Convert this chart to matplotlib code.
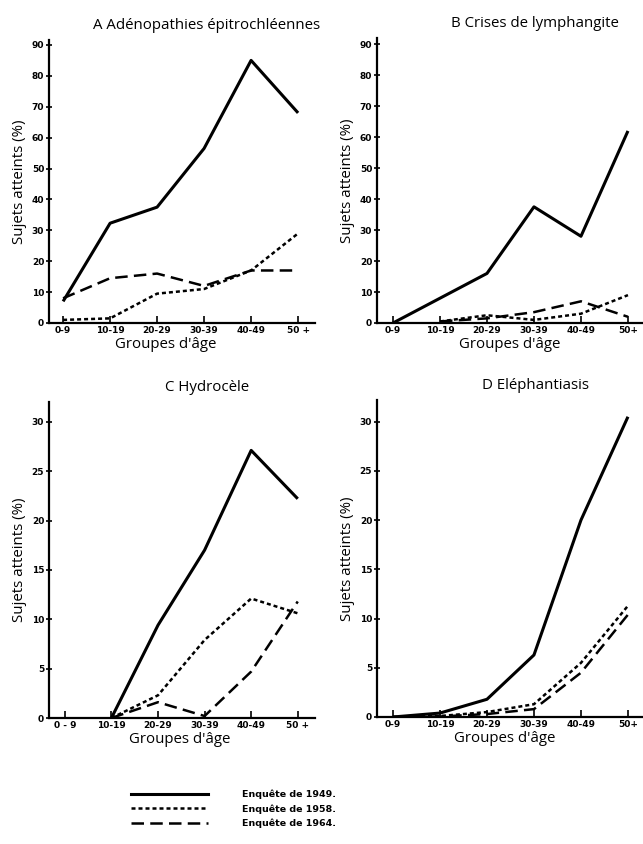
import numpy as np
import matplotlib
matplotlib.use("Agg")
import matplotlib.pyplot as plt
from matplotlib.lines import Line2D

# Données (pourcentage de sujets atteints)
groupes_a = ["0-9", "10-19", "20-29", "30-39", "40-49", "50 +"]
groupes_b = ["0-9", "10-19", "20-29", "30-39", "40-49", "50+"]
groupes_c = ["0 - 9", "10-19", "20-29", "30-39", "40-49", "50 +"]
groupes_d = ["0-9", "10-19", "20-29", "30-39", "40-49", "50+"]

a_1949 = [7, 32.3, 37.5, 56.5, 85, 68]
a_1958 = [1, 1.5, 9.5, 11, 17, 29]
a_1964 = [8, 14.5, 16, 12, 17, 17]

b_1949 = [0, 8, 16, 37.5, 28, 62]
b_1958 = [np.nan, 0.5, 2.5, 1, 3, 9]
b_1964 = [np.nan, 0.5, 1.5, 3.5, 7, 2]

c_1949 = [np.nan, 0, 9.4, 17, 27.1, 22.2]
c_1958 = [np.nan, 0, 2.3, 7.9, 12.1, 10.6]
c_1964 = [np.nan, 0, 1.6, 0.2, 4.7, 11.8]

d_1949 = [0, 0.4, 1.8, 6.3, 20, 30.5]
d_1958 = [0, 0.1, 0.5, 1.3, 5.5, 11.3]
d_1964 = [0, 0.05, 0.3, 0.8, 4.5, 10.4]

titres = ["A Adénopathies épitrochléennes", "B Crises de lymphangite",
          "C Hydrocèle", "D Eléphantiasis"]
legendes = ["Enquête de 1949.", "Enquête de 1958.", "Enquête de 1964."]

W, H = 643, 844
fig = plt.figure(figsize=(W / 100, H / 100), dpi=100)

def box(x0, x1, ybot, ytop):
    return [x0 / W, 1 - ybot / H, (x1 - x0) / W, (ybot - ytop) / H]

tickfont = dict(family=["Liberation Sans Narrow", "DejaVu Sans"], weight="bold", size=6.5)
labfont = dict(family=["Open Sans", "DejaVu Sans"], size=10.8)

styles = [dict(ls="-", lw=2.2),
          dict(ls=(0, (1.6, 1.2)), lw=1.8),
          dict(ls=(0, (5, 2.5)), lw=1.8)]

panneaux = [
    (box(49, 315, 323, 40), groupes_a, [a_1949, a_1958, a_1964], 91.6, 10, (-0.3, 5.36), 0.44),
    (box(377, 643, 323, 38), groupes_b, [b_1949, b_1958, b_1964], 92, 10, (-0.34, 5.32), 0.50),
    (box(49, 315, 718, 402), groupes_c, [c_1949, c_1958, c_1964], 32.0, 5, (-0.34, 5.37), 0.49),
    (box(377, 643, 717, 400), groupes_d, [d_1949, d_1958, d_1964], 32.2, 5, (-0.34, 5.32), 0.48),
]

for i, (pos, labels, series, ymax, pas, xl, xlab_x) in enumerate(panneaux):
    ax = fig.add_axes(pos)
    x = np.arange(len(labels))
    for s, st in zip(series, styles):
        ax.plot(x, s, color="black", solid_capstyle="butt", **st)
    ax.set_xlim(*xl)
    ax.set_ylim(0, ymax)
    ax.set_xticks(x)
    ax.set_xticklabels(labels, fontdict=tickfont)
    yt = np.arange(0, ymax, pas)
    ax.set_yticks(yt)
    ax.set_yticklabels([str(int(v)) for v in yt], fontdict=tickfont)
    for sp in ["top", "right"]:
        ax.spines[sp].set_visible(False)
    for sp in ["left", "bottom"]:
        ax.spines[sp].set_linewidth(1.6)
    ax.tick_params(axis="x", direction="in", length=5, width=1.2, pad=2)
    ax.tick_params(axis="y", direction="inout", length=5, width=1.2, pad=1)
    ax.set_ylabel("Sujets atteints (%)", labelpad=3, **labfont)
    ax.set_xlabel("Groupes d'âge", labelpad=1.5, x=xlab_x, **labfont)
    ax.set_title(titres[i], pad=8, x=0.594, **labfont)

handles = [Line2D([], [], color="black", **st) for st in styles]
fig.legend(handles, legendes, loc="upper left", bbox_to_anchor=(122 / W, 1 - 781 / H),
           frameon=False, handlelength=8.2, handletextpad=3.6, labelspacing=0.55,
           prop=dict(family="DejaVu Sans", weight="bold", size=6.8))

fig.savefig("out.png", dpi=100, facecolor="white")
